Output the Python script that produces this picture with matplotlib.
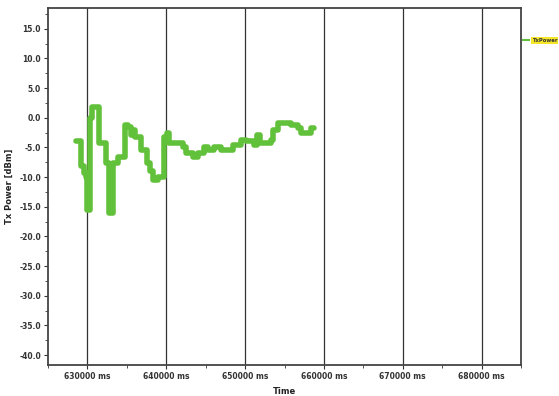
import matplotlib
matplotlib.use("Agg")
import matplotlib.pyplot as plt
from matplotlib.ticker import MultipleLocator, FuncFormatter

# Transmit power log (time in ms, power in dBm), stepwise samples
time_ms = [628600, 629240, 629500, 629750, 630000, 630380, 630630, 631520,
           632410, 632670, 633300, 633930, 634820, 635200, 635580, 635840,
           636090, 636730, 637490, 637870, 638250, 639000, 639650, 640030,
           640280, 642060, 642440, 643450, 643960, 644720, 645350, 645990,
           646880, 648400, 649420, 650050, 651070, 651570, 651950, 653220,
           653600, 654110, 655760, 656650, 657030, 658300, 658680]
tx_power = [-4.0, -8.2, -9.3, -10.0, -15.5, 0.0, 1.8, -4.3,
            -7.6, -16.0, -7.6, -6.6, -1.2, -1.5, -3.0, -2.0,
            -3.2, -5.4, -7.6, -9.0, -10.5, -10.0, -3.2, -2.6,
            -4.3, -5.0, -5.9, -6.6, -5.9, -4.9, -5.4, -4.9,
            -5.4, -4.6, -3.7, -4.0, -4.6, -2.9, -4.2, -3.7,
            -2.0, -0.9, -1.2, -1.7, -2.5, -1.7, -1.7]

y_ticks = [-40, -35, -30, -25, -20, -15, -10, -5, 0, 5, 10, 15]
x_ticks = [630000, 640000, 650000, 660000, 670000, 680000]

fig = plt.figure(figsize=(5.59, 3.96), dpi=100)
ax = fig.add_axes([0.086, 0.078, 0.846, 0.902])

ax.plot(time_ms, tx_power, drawstyle="steps-post", color="#62c13a",
        linewidth=4.0, solid_capstyle="round", solid_joinstyle="round", zorder=3)

ax.set_xlim(625000, 685000)
ax.set_ylim(-41.7, 18.5)

ax.set_xticks(x_ticks)
ax.xaxis.set_minor_locator(MultipleLocator(5000))
ax.set_yticks(y_ticks)
ax.yaxis.set_minor_locator(MultipleLocator(2.5))
ax.xaxis.set_major_formatter(FuncFormatter(lambda v, p: f"{int(v)} ms"))
ax.yaxis.set_major_formatter(FuncFormatter(lambda v, p: f"{v:.1f}"))

for t in x_ticks:
    ax.axvline(t, color="#333333", linewidth=0.9, zorder=1)

ax.tick_params(axis="both", which="major", labelsize=5.5, length=3,
               width=0.8, color="#333333", pad=2)
ax.tick_params(axis="both", which="minor", length=2, width=0.6, color="#333333")
for lab in ax.get_xticklabels() + ax.get_yticklabels():
    lab.set_fontweight("bold")
    lab.set_color("#333333")

for s in ax.spines.values():
    s.set_color("#444444")
    s.set_linewidth(1.3)

ax.set_xlabel("Time", fontsize=6, fontweight="bold", color="#222222", labelpad=4)
ax.set_ylabel("Tx Power [dBm]", fontsize=6, fontweight="bold", color="#222222",
              labelpad=4)

# Legend entry outside the plot area on the right
fig.add_artist(plt.Line2D([0.936, 0.947], [0.898, 0.898], color="#62c13a",
                          linewidth=1.5, transform=fig.transFigure))
fig.text(0.951, 0.898, "TxPower", fontsize=3.8, fontweight="bold",
         color="#333333", va="center", ha="left",
         bbox=dict(boxstyle="square,pad=0.12", facecolor="#f5e62a",
                   edgecolor="none"))

fig.savefig("out.png", dpi=100)
